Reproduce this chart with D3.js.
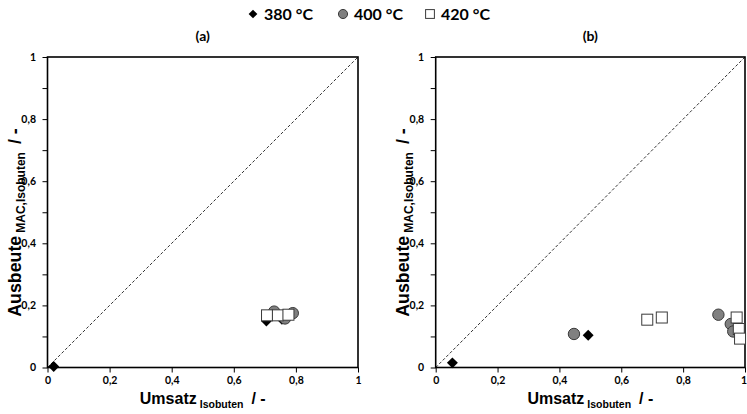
<!DOCTYPE html>
<html>
<head>
<meta charset="utf-8">
<script src="https://cdn.jsdelivr.net/npm/d3@7"></script>
<style>
  body { margin: 0; background: #fff; }
  text { fill: #000; }
</style>
</head>
<body>
<svg id="chart" width="747" height="414"></svg>
<script>
// Temperature series
const seriesNames = ["380 °C", "400 °C", "420 °C"];
const panelTitles = ["(a)", "(b)"];
const tickValues = [0, 0.2, 0.4, 0.6, 0.8, 1];
const tickLabels = ["0", "0,2", "0,4", "0,6", "0,8", "1"];

// Panel (a): conversion (x) and MAC yield (y)
const a380x = [0.020, 0.705, 0.755];
const a380y = [0.003, 0.150, 0.155];
const a400x = [0.730, 0.765, 0.790];
const a400y = [0.180, 0.158, 0.175];
const a420x = [0.707, 0.742, 0.776];
const a420y = [0.168, 0.168, 0.170];

// Panel (b)
const b380x = [0.054, 0.493];
const b380y = [0.015, 0.104];
const b400x = [0.447, 0.914, 0.954, 0.962];
const b400y = [0.108, 0.170, 0.140, 0.116];
const b420x = [0.684, 0.731, 0.973, 0.980, 0.984];
const b420y = [0.154, 0.161, 0.161, 0.124, 0.093];

const zip = (xs, ys) => xs.map((x, i) => ({ x, y: ys[i] }));

const panels = [
  { title: panelTitles[0], left: 47.5, right: 358,
    sets: [zip(a380x, a380y), zip(a400x, a400y), zip(a420x, a420y)] },
  { title: panelTitles[1], left: 435.7, right: 745,
    sets: [zip(b380x, b380y), zip(b400x, b400y), zip(b420x, b420y)] }
];

const plotTop = 57, plotBottom = 367.5;
const svg = d3.select("#chart");
const tickFont = "Lato, 'Noto Sans', sans-serif";
const titleFont = "'Liberation Sans', Arial, sans-serif";

// marker painters
const symDiamond = d3.symbol().type(d3.symbolDiamond2);
function drawMarker(g, kind, cx, cy, scale) {
  const s = scale || 1;
  if (kind === 0) {
    g.append("path")
      .attr("d", symDiamond.size(76 * s * s)())
      .attr("transform", `translate(${cx},${cy})`)
      .attr("fill", "#000");
  } else if (kind === 1) {
    g.append("circle")
      .attr("cx", cx).attr("cy", cy).attr("r", 5.7 * s)
      .attr("fill", "#808080").attr("stroke", "#3a3a3a").attr("stroke-width", 1);
  } else {
    const h = 5.5 * s;
    g.append("rect")
      .attr("x", cx - h).attr("y", cy - h).attr("width", 2 * h).attr("height", 2 * h)
      .attr("fill", "#fff").attr("stroke", "#3a3a3a").attr("stroke-width", 1);
  }
}

panels.forEach(p => {
  const x = d3.scaleLinear().domain([0, 1]).range([p.left, p.right]);
  const y = d3.scaleLinear().domain([0, 1]).range([plotBottom, plotTop]);
  const g = svg.append("g");

  // minor y ticks
  g.append("g")
    .attr("transform", `translate(${p.left},0)`)
    .call(d3.axisLeft(y).tickValues(d3.range(0.1, 1, 0.2)).tickSize(5).tickFormat(""))
    .call(a => a.select(".domain").remove())
    .call(a => a.selectAll("line").attr("stroke", "#000"));

  // major y ticks
  g.append("g")
    .attr("transform", `translate(${p.left},0)`)
    .call(d3.axisLeft(y).tickValues(tickValues).tickSize(5).tickPadding(6.5)
      .tickFormat((d, i) => tickLabels[i]))
    .call(a => a.select(".domain").remove())
    .call(a => a.selectAll("line").attr("stroke", "#000"))
    .call(a => a.selectAll("text").attr("font-family", tickFont)
      .attr("font-weight", "bold").attr("font-size", 10.5).attr("fill", "#000"));

  // x ticks
  g.append("g")
    .attr("transform", `translate(0,${plotBottom})`)
    .call(d3.axisBottom(x).tickValues(tickValues).tickSize(5).tickPadding(4)
      .tickFormat((d, i) => tickLabels[i]))
    .call(a => a.select(".domain").remove())
    .call(a => a.selectAll("line").attr("stroke", "#000"))
    .call(a => a.selectAll("text").attr("font-family", tickFont)
      .attr("font-weight", "bold").attr("font-size", 10.5).attr("fill", "#000"))
    // keep the last label inside the page edge
    .call(a => a.selectAll("text").filter(d => d === 1 && p.right > 740).attr("dx", -1.5));

  // parity line
  g.append("line")
    .attr("x1", x(0)).attr("y1", y(0)).attr("x2", x(1)).attr("y2", y(1))
    .attr("stroke", "#333").attr("stroke-width", 1).attr("stroke-dasharray", "3,2");

  // plot frame
  g.append("rect")
    .attr("x", x(0)).attr("y", y(1))
    .attr("width", x(1) - x(0)).attr("height", y(0) - y(1))
    .attr("fill", "none").attr("stroke", "#000").attr("stroke-width", 1.6);

  // markers: 380, 400, 420 (later series drawn on top)
  const mg = g.append("g");
  p.sets.forEach((set, k) => {
    set.forEach(d => drawMarker(mg, k, x(d.x), y(d.y)));
  });

  // panel title
  g.append("text")
    .attr("x", (p.left + p.right) / 2).attr("y", 41)
    .attr("text-anchor", "middle")
    .attr("font-family", tickFont).attr("font-weight", "bold").attr("font-size", 14)
    .text(p.title);

  // x axis title
  const xt = g.append("text")
    .attr("x", (p.left + p.right) / 2).attr("y", 404)
    .attr("text-anchor", "middle")
    .attr("font-family", titleFont).attr("font-weight", "bold").attr("font-size", 16);
  xt.append("tspan").text("Umsatz");
  xt.append("tspan").attr("dx", 3).attr("dy", 3.5).attr("font-size", 10.5).text("Isobuten");
  xt.append("tspan").attr("dx", 8).attr("dy", -3.5).text("/ -");

  // y axis title
  const yt = g.append("text")
    .attr("transform", `translate(${p.left - 27},222.5) rotate(-90)`)
    .attr("text-anchor", "middle")
    .attr("font-family", titleFont).attr("font-weight", "bold").attr("font-size", 17.8);
  yt.append("tspan").text("Ausbeute");
  yt.append("tspan").attr("dx", 3).attr("dy", 4).attr("font-size", 12).text("MAC,Isobuten");
  yt.append("tspan").attr("dx", 8).attr("dy", -4).text("/ -");
});

// legend
const legendX = [253, 343, 430];
const lg = svg.append("g");
seriesNames.forEach((name, k) => {
  drawMarker(lg, k, legendX[k], 14, 0.8);
  lg.append("text")
    .attr("x", legendX[k] + 11).attr("y", 19.5)
    .attr("font-family", tickFont).attr("font-weight", "bold").attr("font-size", 16)
    .text(name);
});
</script>
</body>
</html>
